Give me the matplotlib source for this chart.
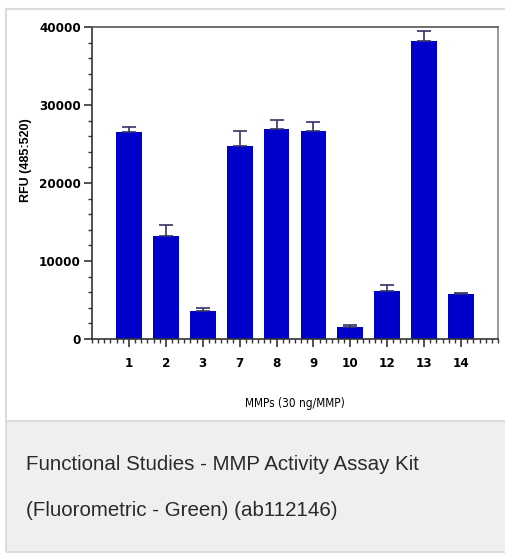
import matplotlib
matplotlib.use("Agg")
import matplotlib.pyplot as plt
from matplotlib.ticker import MultipleLocator
from matplotlib.patches import Rectangle

# MMP activity, RFU (485:520)
mmps = ["1", "2", "3", "7", "8", "9", "10", "12", "13", "14"]
rfu = [26540, 13240, 3590, 24740, 26880, 26710, 1580, 6200, 38170, 5770]
rfu_err = [640, 1360, 380, 1880, 1150, 1110, 220, 720, 1320, 170]

W, H = 506, 553
fig = plt.figure(figsize=(W / 100, H / 100), dpi=100)
fig.patch.set_facecolor("white")

# card + caption background
fig.patches.append(Rectangle((6 / W, 1 - 552 / H), 500 / W, (552 - 421) / H,
                             transform=fig.transFigure, facecolor="#eeefee",
                             edgecolor="none", zorder=0))
fig.patches.append(Rectangle((6 / W, 1 - 552 / H), 510 / W, (552 - 9) / H,
                             transform=fig.transFigure, facecolor="none",
                             edgecolor="#dcdcdc", linewidth=1.5, zorder=1))
fig.lines.append(plt.Line2D([6 / W, 1], [1 - 421 / H, 1 - 421 / H],
                            transform=fig.transFigure, color="#dcdcdc", linewidth=1.5))

ax = fig.add_axes([92 / W, 1 - 339 / H, (498 - 92) / W, (339 - 27) / H])
x = list(range(1, len(mmps) + 1))
ax.bar(x, rfu, width=0.7, color="#0000cc", zorder=2)
ax.errorbar(x, rfu, yerr=[[0] * len(rfu), rfu_err], fmt="none",
            ecolor="#333366", elinewidth=1.2, capsize=5, capthick=1.2, zorder=3)

ax.set_xlim(0, 11)
ax.set_ylim(0, 40000)
ax.set_xticks(x)
ax.set_xticklabels(mmps)
ax.set_yticks([0, 10000, 20000, 30000, 40000])
ax.xaxis.set_minor_locator(MultipleLocator(1 / 6))
ax.yaxis.set_minor_locator(MultipleLocator(2000))

for s in ax.spines.values():
    s.set_linewidth(1.2)
    s.set_color("#333333")
ax.spines["top"].set_color("#555555")
ax.spines["right"].set_color("#888888")

ax.tick_params(axis="both", which="major", direction="out", length=6, width=1.2,
               color="#333333", labelsize=9.5)
ax.tick_params(axis="both", which="minor", direction="out", length=3, width=1,
               color="#333333")
ax.tick_params(axis="x", which="major", pad=7)
ax.tick_params(axis="y", which="major", pad=2)
for lab in ax.get_xticklabels() + ax.get_yticklabels():
    lab.set_fontfamily("DejaVu Sans")
    lab.set_fontstretch("condensed")
    lab.set_fontweight("bold")

ax.set_ylabel("RFU (485:520)", fontsize=9, fontweight="bold",
              family="Liberation Sans", va="center")
ax.yaxis.set_label_coords(26 / W, 1 - 160 / H, transform=fig.transFigure)
ax.set_xlabel("MMPs (30 ng/MMP)", fontsize=8.5, family="DejaVu Sans",
              fontstretch="condensed", va="center")
ax.xaxis.set_label_coords(295 / W, 1 - 403 / H, transform=fig.transFigure)

fig.text(26 / W, 1 - 465 / H, "Functional Studies - MMP Activity Assay Kit",
         fontsize=14.8, family="Liberation Sans", color="#2a2a2a", va="center")
fig.text(26 / W, 1 - 510 / H, "(Fluorometric - Green) (ab112146)",
         fontsize=14.8, family="Liberation Sans", color="#2a2a2a", va="center")

fig.savefig("out.png", dpi=100)
